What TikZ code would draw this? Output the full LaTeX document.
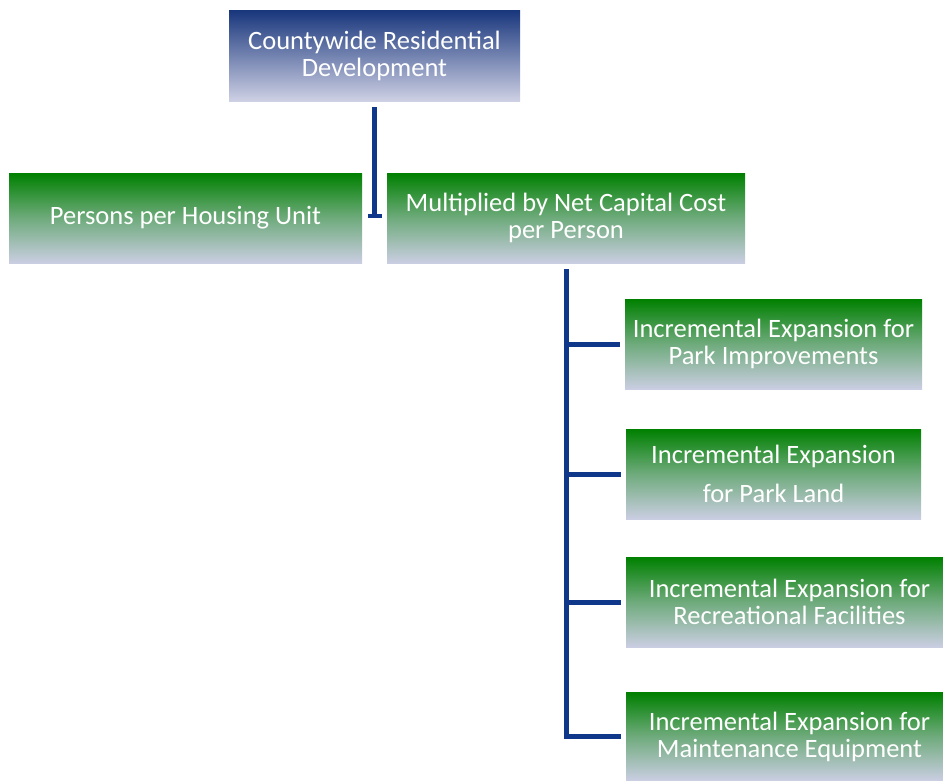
\documentclass[tikz,border=0pt]{standalone}
\usepackage{fontspec}
\setmainfont{Carlito}
\usetikzlibrary{arrows.meta,calc}
\definecolor{gtop}{RGB}{0,128,0}
\definecolor{gbot}{RGB}{202,206,226}
\definecolor{btop}{RGB}{24,54,124}
\definecolor{bbot}{RGB}{206,208,228}
\definecolor{conn}{RGB}{16,56,138}
\tikzset{
  gbox/.style={rectangle, inner sep=0pt, minimum width=#1, minimum height=90pt,
    top color=gtop, bottom color=gbot, middle color=gtop!45!gbot, text=white,
    font=\fontsize{26.5}{27}\selectfont, align=center},
  bbox/.style={rectangle, inner sep=0pt, minimum width=291pt, minimum height=91pt,
    top color=btop, bottom color=bbot, middle color=btop!50!bbot, text=white,
    font=\fontsize{26.5}{27}\selectfont, align=center},
  conline/.style={draw=conn, line width=5pt}
}
\begin{document}
\begin{tikzpicture}[x=1pt,y=-1pt]
\useasboundingbox (0,0) rectangle (943,780);
\node[bbox] (top) at (374.5,55.5) {Countywide Residential\\Development};
\node[gbox=353pt] (persons) at (185.5,218) {Persons per Housing Unit};
\node[gbox=358pt] (mult) at (566,218) {Multiplied by Net Capital Cost\\per Person};
\node[gbox=297pt] (b1) at (773.5,344) {Incremental Expansion for\\Park Improvements};
\node[gbox=295pt, font=\fontsize{26.5}{39}\selectfont] (b2) at (773.5,474) {Incremental Expansion\\for Park Land};
\node[gbox=327pt] (b3) at (789.5,602) {Incremental Expansion for\\Recreational Facilities};
\node[gbox=327pt, minimum height=88pt] (b4) at (789.5,736.5) {Incremental Expansion for\\Maintenance Equipment};
% top connector with bar end
\coordinate (tend) at (top.south |- mult.west);
\draw[conline, -{Bar[width=14pt,line width=4pt]}, line cap=butt] ($(top.south)+(0,6)$) -- (tend);
% right tree
\coordinate (trunk) at ($(mult.south)+(0,6)$);
\draw[conline] (trunk) |- ($(b4.west)+(-5,0)$);
\draw[conline] (trunk |- b1.west) -- ($(b1.west)+(-5,0)$);
\draw[conline] (trunk |- b2.west) -- ($(b2.west)+(-5,0)$);
\draw[conline] (trunk |- b3.west) -- ($(b3.west)+(-5,0)$);
\end{tikzpicture}
\end{document}
